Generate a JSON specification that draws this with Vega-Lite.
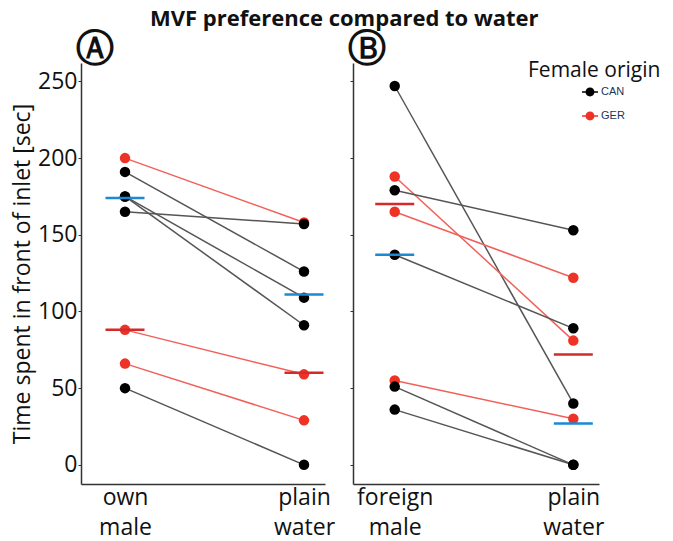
{
  "$schema": "https://vega.github.io/schema/vega-lite/v6.json",
  "background": "white",
  "padding": {"left": 11, "top": 8, "right": 0, "bottom": 2},
  "title": {
    "text": "MVF preference compared to water",
    "font": "Open Sans",
    "fontSize": 22,
    "fontWeight": "bold",
    "color": "#111",
    "anchor": "middle",
    "dx": 8,
    "offset": 0
  },
  "datasets": {
    "pairs": [
      {"panel": "A", "id": "A1", "origin": "GER", "stimulus": "own male", "time": 200},
      {"panel": "A", "id": "A1", "origin": "GER", "stimulus": "plain water", "time": 158},
      {"panel": "A", "id": "A2", "origin": "CAN", "stimulus": "own male", "time": 191},
      {"panel": "A", "id": "A2", "origin": "CAN", "stimulus": "plain water", "time": 126},
      {"panel": "A", "id": "A3", "origin": "CAN", "stimulus": "own male", "time": 175},
      {"panel": "A", "id": "A3", "origin": "CAN", "stimulus": "plain water", "time": 109},
      {"panel": "A", "id": "A4", "origin": "CAN", "stimulus": "own male", "time": 175},
      {"panel": "A", "id": "A4", "origin": "CAN", "stimulus": "plain water", "time": 91},
      {"panel": "A", "id": "A5", "origin": "CAN", "stimulus": "own male", "time": 165},
      {"panel": "A", "id": "A5", "origin": "CAN", "stimulus": "plain water", "time": 157},
      {"panel": "A", "id": "A6", "origin": "GER", "stimulus": "own male", "time": 88},
      {"panel": "A", "id": "A6", "origin": "GER", "stimulus": "plain water", "time": 59},
      {"panel": "A", "id": "A7", "origin": "GER", "stimulus": "own male", "time": 66},
      {"panel": "A", "id": "A7", "origin": "GER", "stimulus": "plain water", "time": 29},
      {"panel": "A", "id": "A8", "origin": "CAN", "stimulus": "own male", "time": 50},
      {"panel": "A", "id": "A8", "origin": "CAN", "stimulus": "plain water", "time": 0},
      {"panel": "B", "id": "B1", "origin": "CAN", "stimulus": "foreign male", "time": 247},
      {"panel": "B", "id": "B1", "origin": "CAN", "stimulus": "plain water", "time": 40},
      {"panel": "B", "id": "B2", "origin": "GER", "stimulus": "foreign male", "time": 188},
      {"panel": "B", "id": "B2", "origin": "GER", "stimulus": "plain water", "time": 81},
      {"panel": "B", "id": "B3", "origin": "CAN", "stimulus": "foreign male", "time": 179},
      {"panel": "B", "id": "B3", "origin": "CAN", "stimulus": "plain water", "time": 153},
      {"panel": "B", "id": "B4", "origin": "GER", "stimulus": "foreign male", "time": 165},
      {"panel": "B", "id": "B4", "origin": "GER", "stimulus": "plain water", "time": 122},
      {"panel": "B", "id": "B5", "origin": "CAN", "stimulus": "foreign male", "time": 137},
      {"panel": "B", "id": "B5", "origin": "CAN", "stimulus": "plain water", "time": 89},
      {"panel": "B", "id": "B6", "origin": "GER", "stimulus": "foreign male", "time": 55},
      {"panel": "B", "id": "B6", "origin": "GER", "stimulus": "plain water", "time": 30},
      {"panel": "B", "id": "B7", "origin": "CAN", "stimulus": "foreign male", "time": 51},
      {"panel": "B", "id": "B7", "origin": "CAN", "stimulus": "plain water", "time": 0},
      {"panel": "B", "id": "B8", "origin": "CAN", "stimulus": "foreign male", "time": 36},
      {"panel": "B", "id": "B8", "origin": "CAN", "stimulus": "plain water", "time": 0}
    ],
    "medians": [
      {"panel": "A", "origin": "CAN", "stimulus": "own male", "time": 174},
      {"panel": "A", "origin": "CAN", "stimulus": "plain water", "time": 111},
      {"panel": "A", "origin": "GER", "stimulus": "own male", "time": 88},
      {"panel": "A", "origin": "GER", "stimulus": "plain water", "time": 60},
      {"panel": "B", "origin": "CAN", "stimulus": "foreign male", "time": 137},
      {"panel": "B", "origin": "CAN", "stimulus": "plain water", "time": 27},
      {"panel": "B", "origin": "GER", "stimulus": "foreign male", "time": 170},
      {"panel": "B", "origin": "GER", "stimulus": "plain water", "time": 72}
    ]
  },
  "config": {
    "view": {"stroke": null},
    "font": "Open Sans",
    "axis": {
      "grid": false,
      "domainColor": "#333",
      "domainWidth": 1.5,
      "tickColor": "#333",
      "labelFont": "Open Sans",
      "labelFontSize": 23,
      "labelColor": "#111",
      "titleFont": "Open Sans",
      "titleFontSize": 23,
      "titleFontWeight": "normal",
      "titleColor": "#111"
    },
    "title": {"font": "DejaVu Sans"}
  },
  "spacing": 13,
  "hconcat": [
    {
      "width": 244,
      "height": 421,
      "title": {"text": "Ⓐ", "anchor": "start", "frame": "group", "fontSize": 38, "fontWeight": "bold", "color": "#111", "dx": -5, "offset": -6},
      "layer": [
        {
          "data": {"name": "pairs"},
          "transform": [{"filter": "datum.panel === 'A'"}],
          "mark": {"type": "line", "strokeWidth": 1.5},
          "encoding": {
            "x": {"field": "stimulus", "type": "nominal", "sort": ["own male", "plain water"],
                  "scale": {"type": "point", "padding": 0.1816, "align": 0.677},
                  "axis": {"title": null, "ticks": false, "labelAngle": 0, "labelPadding": 2, "labelExpr": "split(datum.label, ' ')", "labelLineHeight": 30, "labelBaseline": "top"}},
            "y": {"field": "time", "type": "quantitative",
                  "scale": {"domain": [-12.5, 262], "nice": false, "zero": false},
                  "axis": {"title": "Time spent in front of inlet [sec]", "values": [0, 50, 100, 150, 200, 250], "tickSize": 3, "labelPadding": 1, "titlePadding": 3}},
            "detail": {"field": "id"},
            "stroke": {"field": "origin", "type": "nominal", "scale": {"domain": ["GER", "CAN"], "range": ["#f2605a", "#555555"]}, "legend": null}
          }
        },
        {
          "data": {"name": "pairs"},
          "transform": [{"filter": "datum.panel === 'A'"}],
          "mark": {"type": "point", "filled": true, "opacity": 1, "size": 110},
          "encoding": {
            "x": {"field": "stimulus", "type": "nominal", "sort": ["own male", "plain water"]},
            "y": {"field": "time", "type": "quantitative"},
            "color": {"field": "origin", "type": "nominal", "title": "Female origin", "scale": {"domain": ["CAN", "GER"], "range": ["#000000", "#ee3326"]},
                      "legend": {
                        "orient": "none", "legendX": 447, "legendY": -3,
                        "titleFont": "Open Sans", "titleFontSize": 21, "titleFontWeight": "normal", "titleColor": "#111", "titlePadding": 3,
                        "labelFont": "Liberation Sans", "labelFontSize": 11, "labelColor": "#23345a",
                        "symbolType": "M-1,-0.09L1,-0.09L1,0.09L-1,0.09Z M-0.56,0A0.56,0.56,0,1,1,0.56,0A0.56,0.56,0,1,1,-0.56,0Z",
                        "symbolSize": 256, "symbolStrokeWidth": 0, "symbolOpacity": 1, "symbolOffset": 54, "labelOffset": 3,
                        "rowPadding": 11
                      }}
          }
        },
        {
          "data": {"name": "medians"},
          "transform": [{"filter": "datum.panel === 'A'"}],
          "mark": {"type": "tick", "orient": "horizontal", "size": 39, "thickness": 2.5, "opacity": 1},
          "encoding": {
            "x": {"field": "stimulus", "type": "nominal", "sort": ["own male", "plain water"]},
            "y": {"field": "time", "type": "quantitative"},
            "fill": {"field": "origin", "type": "nominal", "scale": {"domain": ["GER", "CAN"], "range": ["#d42a2a", "#1a8ad4"]}, "legend": null}
          }
        }
      ]
    },
    {
      "width": 246,
      "height": 421,
      "title": {"text": "Ⓑ", "anchor": "start", "frame": "group", "fontSize": 38, "fontWeight": "bold", "color": "#111", "dx": -5, "offset": -6},
      "layer": [
        {
          "data": {"name": "pairs"},
          "transform": [{"filter": "datum.panel === 'B'"}],
          "mark": {"type": "line", "strokeWidth": 1.5},
          "encoding": {
            "x": {"field": "stimulus", "type": "nominal", "sort": ["foreign male", "plain water"],
                  "scale": {"type": "point", "padding": 0.1887, "align": 0.619},
                  "axis": {"title": null, "ticks": false, "labelAngle": 0, "labelPadding": 2, "labelExpr": "split(datum.label, ' ')", "labelLineHeight": 30, "labelBaseline": "top"}},
            "y": {"field": "time", "type": "quantitative",
                  "scale": {"domain": [-12.5, 262], "nice": false, "zero": false},
                  "axis": {"title": null, "labels": false, "values": [0, 50, 100, 150, 200, 250], "tickSize": 3}},
            "detail": {"field": "id"},
            "stroke": {"field": "origin", "type": "nominal", "legend": null}
          }
        },
        {
          "data": {"name": "pairs"},
          "transform": [{"filter": "datum.panel === 'B'"}],
          "mark": {"type": "point", "filled": true, "opacity": 1, "size": 110},
          "encoding": {
            "x": {"field": "stimulus", "type": "nominal", "sort": ["foreign male", "plain water"]},
            "y": {"field": "time", "type": "quantitative"},
            "color": {"field": "origin", "type": "nominal", "title": "Female origin"}
          }
        },
        {
          "data": {"name": "medians"},
          "transform": [{"filter": "datum.panel === 'B'"}],
          "mark": {"type": "tick", "orient": "horizontal", "size": 39, "thickness": 2.5, "opacity": 1},
          "encoding": {
            "x": {"field": "stimulus", "type": "nominal", "sort": ["foreign male", "plain water"]},
            "y": {"field": "time", "type": "quantitative"},
            "fill": {"field": "origin", "type": "nominal", "legend": null}
          }
        }
      ]
    }
  ]
}
